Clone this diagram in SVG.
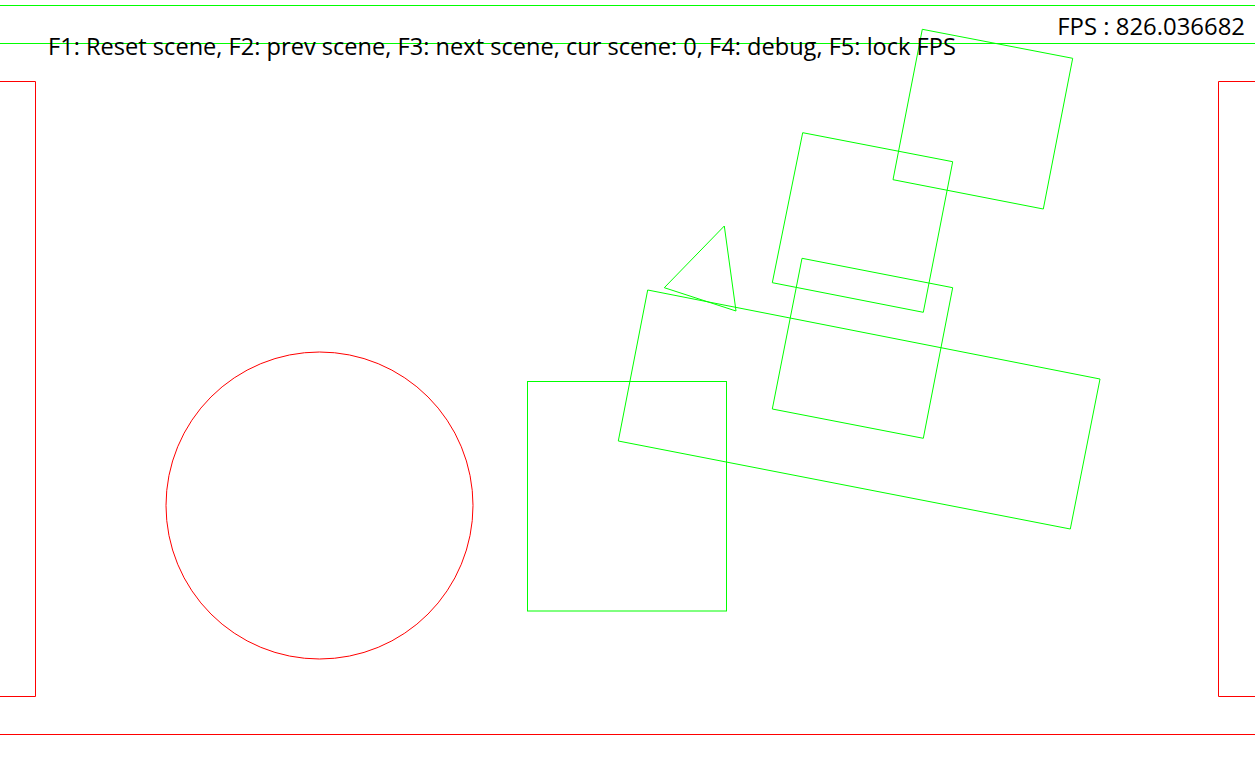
<svg xmlns="http://www.w3.org/2000/svg" width="1255" height="763" viewBox="0 0 1255 763">
<style>
.g{fill:none;stroke:#00ff00;stroke-width:1}
.r{fill:none;stroke:#ff0000;stroke-width:1}
.t{font-family:"Open Sans","Noto Sans",sans-serif;fill:#000}
</style>
<rect width="1255" height="763" fill="#fff"/>
<g id="hud-lines">
<line class="g" x1="0" y1="5.5" x2="1255" y2="5.5"/>
<line class="g" x1="0" y1="43.5" x2="1255" y2="43.5"/>
</g>
<g id="walls">
<polyline class="r" points="0,81.5 35.5,81.5 35.5,696.5 0,696.5"/>
<polyline class="r" points="1256,81.5 1218.5,81.5 1218.5,696.5 1256,696.5"/>
<line class="r" x1="0" y1="734.5" x2="1255" y2="734.5"/>
</g>
<g id="circle"><circle class="r" cx="319.5" cy="505.5" r="153.5"/></g>
<g id="square"><rect class="g" x="527.5" y="381.5" width="199" height="229.5"/></g>
<g id="triangle"><polygon class="g" points="724.3,226 664.3,287.7 736,311"/></g>
<g id="big-rect"><polygon class="g" points="647.7,290 1100,379 1070.3,529 618.3,441"/></g>
<g id="rect-top"><polygon class="g" points="922.3,29.3 1072.7,58.3 1043.3,209 893,179.7"/></g>
<g id="rect-mid"><polygon class="g" points="802.7,132.7 952.7,161.7 923.3,312.3 772.3,282.7"/></g>
<g id="rect-low"><polygon class="g" points="802,258.3 952.7,287.7 923.3,438.3 772.3,409"/></g>
<g id="texts">
<text class="t" x="48" y="55" font-size="23.6">F1: Reset scene, F2: prev scene, F3: next scene, cur scene: 0, F4: debug, F5: lock FPS</text>
<text class="t" x="1245" y="35" text-anchor="end" font-size="23.9">FPS : 826.036682</text>
</g>
</svg>
